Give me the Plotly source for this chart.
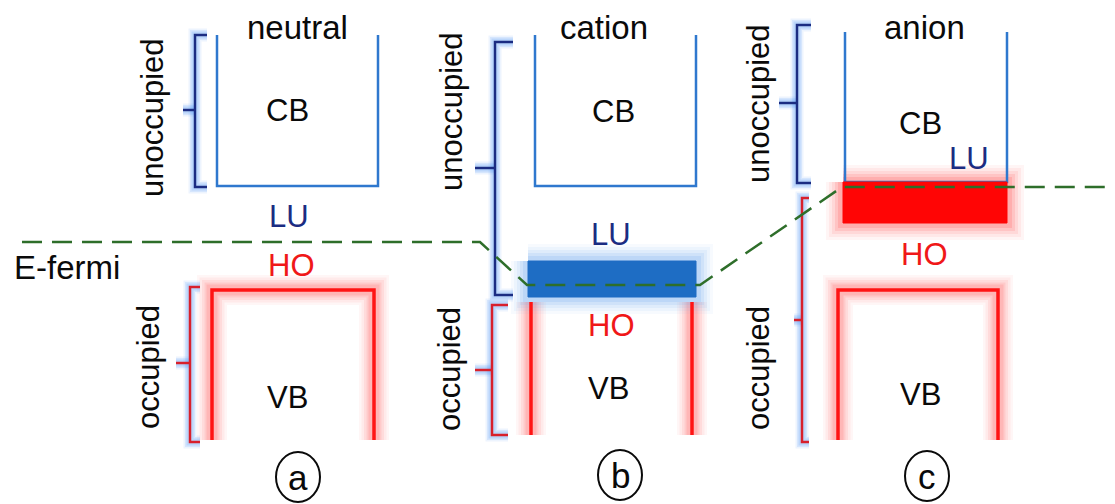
import plotly.graph_objects as go

# ---------------- diagram data (diagram units = pixels of the 1115x504 canvas) -------------
panel_titles = ["neutral", "cation", "anion"]
panel_tags = ["a", "b", "c"]
title_x = [297, 604, 924]
title_y = [27, 27, 27]

# conduction band well (blue, open at the top)
cb_left = [217, 535, 845]
cb_right = [378, 696, 1007]
cb_top = [35, 35, 32]
cb_bottom = [186, 186, 182]
cb_label_x = [287, 613, 920]
cb_label_y = [110, 111, 123]

# valence band (red, open at the bottom)
vb_left = [212, 531, 838]
vb_right = [374, 692, 998]
vb_top = [290, 302, 290]
vb_bottom = [440, 435, 440]
vb_closed_top = [True, False, True]
vb_label_x = [287, 608, 920]
vb_label_y = [397, 388, 394]

# LU / HO level labels
lu_x = [289, 611, 969]
lu_y = [216, 234, 158]
ho_x = [291, 611, 924]
ho_y = [265, 325, 254]

# polaron levels (cation: blue box, anion: red box)
box_panels = [1, 2]
box_left = [528, 843]
box_right = [696, 1007]
box_top = [261, 182]
box_bottom = [297, 223]
box_fill = ["#1E6DC4", "#FF0505"]
box_glow = ["120,175,240", "255,90,90"]

# Fermi level (dashed)
fermi_x = [22, 480, 527, 700, 842, 1115]
fermi_y = [242, 242, 285, 285, 187, 187]

# braces: unoccupied / occupied
unocc_x = [195, 495, 797]
unocc_top = [35, 42, 25]
unocc_bot = [187, 295, 183]
unocc_tip = [110, 168, 103]
unocc_serif = [12, 18, 14]
unocc_tick = [12, 20, 18]
unocc_text_x = [152, 451, 758]
unocc_text_y = [118, 112, 104]

occ_x = [190, 492, 802]
occ_top = [287, 305, 198]
occ_bot = [442, 435, 442]
occ_tip = [363, 370, 320]
occ_serif = [10, 16, 7]
occ_tick = [14, 17, 8]
occ_text_x = [148, 449, 758]
occ_text_y = [367, 369, 368]

tag_x = [298, 620, 927]
tag_y = [477, 475, 476]

FONT = "Liberation Sans, Arial, sans-serif"
BLUE = "#2F78CE"
NAVY = "#1B2C82"
RED = "#FF1414"
BRACE_RED = "#D8202C"
GREEN = "#2E6E2A"
TEXT = "#0A0A0A"

# the page body has an 8px margin; the plot area covers canvas pixels 8..1115 x 8..504
PAGE_OFFSET = 8
CANVAS_W, CANVAS_H = 1115, 504

fig = go.Figure()


def line(xs, ys, color, width, dash=None):
    fig.add_trace(go.Scatter(x=xs, y=ys, mode="lines", hoverinfo="skip",
                             line=dict(color=color, width=width, dash=dash)))


GLOW_W = [30, 25, 20, 15, 11]
GLOW_A = [0.05, 0.07, 0.09, 0.12, 0.16]


def glow(xs, ys, rgb, widths=GLOW_W, alphas=GLOW_A):
    for w, a in zip(widths, alphas):
        line(xs, ys, f"rgba({rgb},{a})", w)


# ---- glows first ----
for i in range(3):
    if vb_closed_top[i]:
        xs = [vb_left[i], vb_left[i], vb_right[i], vb_right[i]]
        ys = [vb_bottom[i], vb_top[i], vb_top[i], vb_bottom[i]]
        glow(xs, ys, "255,80,80")
    else:
        for xv in (vb_left[i], vb_right[i]):
            glow([xv, xv], [vb_top[i], vb_bottom[i]], "255,80,80")
    for bx, bt, bb, bm, s, t in ((unocc_x[i], unocc_top[i], unocc_bot[i], unocc_tip[i], unocc_serif[i], unocc_tick[i]),
                                 (occ_x[i], occ_top[i], occ_bot[i], occ_tip[i], occ_serif[i], occ_tick[i])):
        glow([bx + s, bx, bx, bx + s], [bt, bt, bb, bb], "80,150,245", [13, 10, 7], [0.1, 0.14, 0.2])
        glow([bx, bx - t], [bm, bm], "80,150,245", [13, 10, 7], [0.1, 0.14, 0.2])

for k, p in enumerate(box_panels):
    xs = [box_left[k], box_right[k], box_right[k], box_left[k], box_left[k]]
    ys = [box_top[k], box_top[k], box_bottom[k], box_bottom[k], box_top[k]]
    glow(xs, ys, box_glow[k], [34, 28, 22, 16, 10], [0.06, 0.08, 0.11, 0.15, 0.2])

# ---- cores ----
for i in range(3):
    line([cb_left[i], cb_left[i], cb_right[i], cb_right[i]],
         [cb_top[i], cb_bottom[i], cb_bottom[i], cb_top[i]], BLUE, 2.5)
    if vb_closed_top[i]:
        line([vb_left[i], vb_left[i], vb_right[i], vb_right[i]],
             [vb_bottom[i], vb_top[i], vb_top[i], vb_bottom[i]], RED, 3.5)
    else:
        for xv in (vb_left[i], vb_right[i]):
            line([xv, xv], [vb_top[i], vb_bottom[i]], RED, 3.5)
    bx, bt, bb, bm, s, t = unocc_x[i], unocc_top[i], unocc_bot[i], unocc_tip[i], unocc_serif[i], unocc_tick[i]
    line([bx + s, bx, bx, bx + s], [bt, bt, bb, bb], NAVY, 2.5)
    line([bx, bx - t], [bm, bm], NAVY, 2.5)
    bx, bt, bb, bm, s, t = occ_x[i], occ_top[i], occ_bot[i], occ_tip[i], occ_serif[i], occ_tick[i]
    line([bx + s, bx, bx, bx + s], [bt, bt, bb, bb], BRACE_RED, 2.5)
    line([bx, bx - t], [bm, bm], BRACE_RED, 2.5)

for k, p in enumerate(box_panels):
    fig.add_trace(go.Scatter(
        x=[box_left[k], box_right[k], box_right[k], box_left[k], box_left[k]],
        y=[box_top[k], box_top[k], box_bottom[k], box_bottom[k], box_top[k]],
        mode="lines", fill="toself", fillcolor=box_fill[k],
        line=dict(color=box_fill[k], width=1), hoverinfo="skip"))

line(fermi_x, fermi_y, GREEN, 2.5, dash="20px,10px")

# ---- text ----
ann = []


def txt(x, y, s, size=31, color=TEXT, angle=0):
    ann.append(dict(x=x, y=y, xref="x", yref="y", text=s, showarrow=False,
                    xanchor="center", yanchor="middle", textangle=angle,
                    font=dict(family=FONT, size=size, color=color)))


for i in range(3):
    txt(title_x[i], title_y[i], panel_titles[i], size=33)
    txt(cb_label_x[i], cb_label_y[i], "CB")
    txt(vb_label_x[i], vb_label_y[i], "VB")
    txt(lu_x[i], lu_y[i], "LU", color=NAVY)
    txt(ho_x[i], ho_y[i], "HO", color="#F01818")
    txt(unocc_text_x[i], unocc_text_y[i], "unoccupied", angle=-90)
    txt(occ_text_x[i], occ_text_y[i], "occupied", angle=-90)
    txt(tag_x[i], tag_y[i], panel_tags[i], size=35)

ann.append(dict(x=12, y=267, xref="x", yref="y", text="E-fermi", showarrow=False,
                xanchor="left", yanchor="middle",
                font=dict(family=FONT, size=33, color=TEXT)))

shapes = []
for i in range(3):
    shapes.append(dict(type="circle", xref="x", yref="y",
                       x0=tag_x[i] - 22, x1=tag_x[i] + 22,
                       y0=tag_y[i] - 25, y1=tag_y[i] + 25,
                       line=dict(color=TEXT, width=2)))

fig.update_layout(
    width=CANVAS_W - PAGE_OFFSET, height=CANVAS_H - PAGE_OFFSET,
    margin=dict(l=0, r=0, t=0, b=0),
    paper_bgcolor="white", plot_bgcolor="white",
    showlegend=False,
    xaxis=dict(range=[PAGE_OFFSET, CANVAS_W], visible=False, fixedrange=True),
    yaxis=dict(range=[CANVAS_H, PAGE_OFFSET], visible=False, fixedrange=True),
    annotations=ann, shapes=shapes,
)

fig.write_html("out.html")
